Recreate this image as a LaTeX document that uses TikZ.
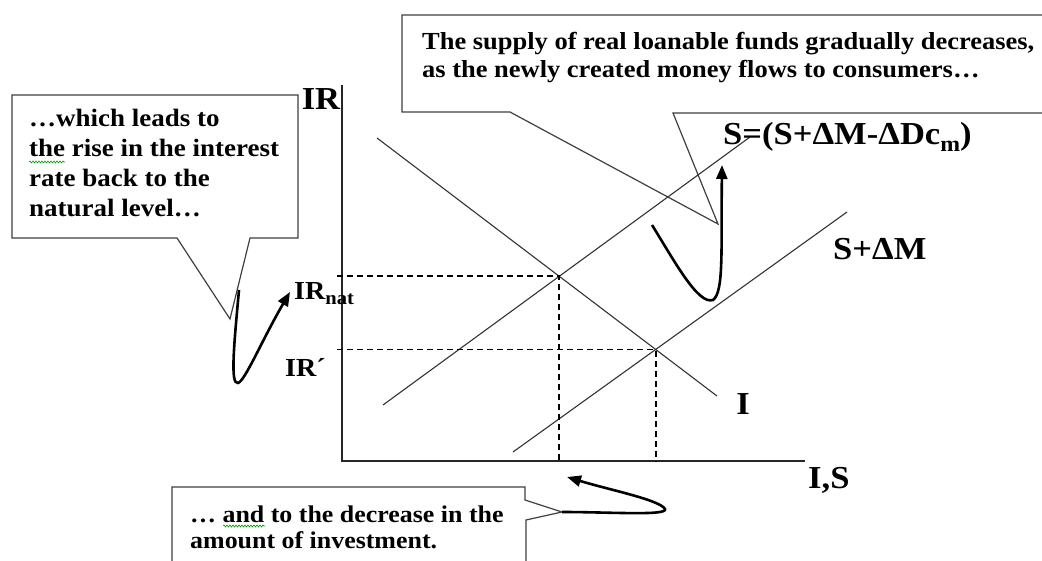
\documentclass[tikz,border=0pt]{standalone}
\usepackage{fontspec}
\setmainfont[FakeStretch=1.08]{Liberation Serif}
\usetikzlibrary{arrows.meta,decorations.pathmorphing}
\begin{document}
\begin{tikzpicture}[x=1pt,y=-1pt,
  callout/.style={draw=black!75, line width=1.2pt, fill=white},
  ctext/.style={anchor=base west, inner sep=0pt, align=left},
  lbl/.style={inner sep=0pt, font=\bfseries\fontsize{32}{36}\selectfont},
  slbl/.style={inner sep=0pt, font=\bfseries\fontsize{26}{30}\selectfont},
  curvearrow/.style={line width=2.6pt, -{Triangle[length=14pt,width=11pt]}},
  axisline/.style={line width=1.8pt, black!85},
  sline/.style={line width=1.1pt, black!80},
  guide/.style={line width=1.8pt, dash pattern=on 6pt off 4pt},
  spell/.style={green!60!black, line width=0.6pt, decorate, decoration={snake, amplitude=1pt, segment length=3pt}}
  ]
\useasboundingbox (0,0) rectangle (1042,561);
\fill[white] (0,0) rectangle (1042,561);

% callouts
\path[callout] (402,15) -- (1060,15) -- (1060,113) -- (673,113) -- (718,224) -- (510,112) -- (402,112) -- cycle;
\path[callout] (12,95) -- (298,95) -- (298,238) -- (250,238) -- (230,319) -- (177,238) -- (12,238) -- cycle;
\path[callout] (172,487) -- (525,487) -- (525,500) -- (562,512) -- (526,520) -- (526,575) -- (172,575) -- cycle;

\node[ctext, font=\bfseries\fontsize{24.5}{28}\selectfont] (toptext) at (422,78)
  {The supply of real loanable funds gradually decreases,\\as the newly created money flows to consumers…};
\node[ctext, font=\bfseries\fontsize{25}{30}\selectfont] (lefttext) at (29,217)
  {…which leads to\\the rise in the interest\\rate back to the\\natural level…};
\node[ctext, font=\bfseries\fontsize{24}{26}\selectfont] (bottext) at (190,548)
  {… and to the decrease in the\\amount of investment.};
\draw[spell] (29,162) -- (65,162);
\draw[spell] (223,526) -- (265,526);

% axes
\coordinate (Ytop) at (342,85);
\coordinate (O) at (342,461);
\coordinate (Xend) at (805,461);
\draw[axisline] (Ytop) -- (O) -- (Xend);

% curves
\coordinate (D1) at (377,138); \coordinate (D2) at (717,396);
\coordinate (S1) at (383,405); \coordinate (S2) at (750,137);
\coordinate (M1) at (513,452); \coordinate (M2) at (847,212);
\draw[sline] (D1) -- (D2);
\draw[sline] (S1) -- (S2);
\draw[sline] (M1) -- (M2);
\coordinate (E1) at (intersection of D1--D2 and S1--S2);
\coordinate (E2) at (intersection of D1--D2 and M1--M2);
\coordinate (Lx) at (337,0);
\draw[guide] (E1 -| Lx) -- (E1) -- (E1 |- O);
\draw[guide] (E2 -| Lx) -- (E2) -- (E2 |- O);

% labels
\node[lbl] (IR) at (321,99) {IR};
\node[slbl, anchor=base west] (IRnat) at (294,300) {IR\raisebox{-0.18em}{\fontsize{19}{19}\selectfont nat}};
\node[slbl, anchor=base west] (IRp) at (285,377) {IR´};
\node[lbl] (Ilbl) at (743,404) {I};
\node[lbl, anchor=base west] (ISlbl) at (808,488) {I,S};
\node[lbl, anchor=base west] (SMlbl) at (833,260) {S+ΔM};
\node[lbl, anchor=base west] (SDlbl) at (723,145) {S=(S+ΔM-ΔDc\raisebox{-0.2em}{\fontsize{22}{22}\selectfont m})};

% thick arrows
\coordinate (la0) at (239,290); \coordinate (la1) at (238,383); \coordinate (la2) at (290,292);
\draw[curvearrow] (la0) .. controls (234,345) and (230,385) .. (la1) .. controls (245,381) and (262,340) .. (la2);
\coordinate (ra0) at (652,225); \coordinate (ra1) at (713,300); \coordinate (ra2) at (722,165);
\draw[curvearrow] (ra0) .. controls (675,262) and (698,305) .. (ra1) .. controls (724,292) and (721,250) .. (ra2);
\coordinate (ba0) at (562,512); \coordinate (ba1) at (665,509); \coordinate (ba2) at (567,477);
\draw[curvearrow] (ba0) .. controls (610,512) and (668,516) .. (ba1) .. controls (660,500) and (610,490) .. (ba2);
\end{tikzpicture}
\end{document}
